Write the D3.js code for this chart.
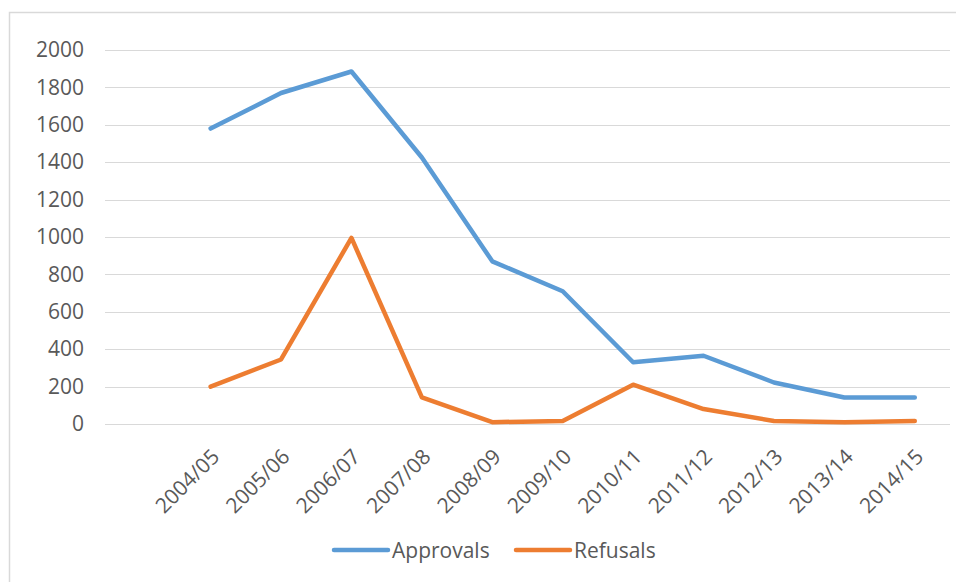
<!DOCTYPE html>
<html>
<head>
<meta charset="utf-8">
<script src="https://cdn.jsdelivr.net/npm/d3@7"></script>
<style>
  html, body { margin: 0; padding: 0; background: #fff; }
  svg { display: block; }
  text { font-family: "Open Sans", "Liberation Sans", sans-serif; fill: #595959; }
</style>
</head>
<body>
<svg id="chart" width="956" height="582"></svg>
<script>
// ---- data ----
const categories = ["", "2004/05", "2005/06", "2006/07", "2007/08", "2008/09", "2009/10",
                    "2010/11", "2011/12", "2012/13", "2013/14", "2014/15"];
const approvals = [null, 1580, 1770, 1885, 1425, 870, 710, 330, 365, 222, 142, 142];
const refusals  = [null, 200, 345, 995, 142, 10, 16, 210, 80, 16, 10, 16];
const yTicks = [0, 200, 400, 600, 800, 1000, 1200, 1400, 1600, 1800, 2000];
const seriesNames = ["Approvals", "Refusals"];
const seriesColors = ["#5B9BD5", "#ED7D31"];

// ---- layout ----
const svg = d3.select("#chart");
const plot = { left: 105, right: 950, top: 50, bottom: 424 };

svg.append("rect")
  .attr("x", 9.5).attr("y", 12.5)
  .attr("width", 970).attr("height", 600)
  .attr("fill", "#fff").attr("stroke", "#d9d9d9").attr("stroke-width", 1.5);

const x = d3.scaleBand().domain(categories).range([plot.left, plot.right]).padding(0);
const y = d3.scaleLinear().domain([0, 2000]).range([plot.bottom, plot.top]);

// gridlines
svg.append("g").selectAll("line").data(yTicks).join("line")
  .attr("x1", plot.left).attr("x2", plot.right)
  .attr("y1", d => Math.round(y(d)) + 0.5).attr("y2", d => Math.round(y(d)) + 0.5)
  .attr("stroke", "#d9d9d9").attr("stroke-width", 1);

// y axis labels
const yAxis = d3.axisLeft(y).tickValues(yTicks).tickSize(0).tickPadding(0).tickFormat(d3.format("d"));
const yg = svg.append("g").attr("transform", `translate(84,0)`).call(yAxis);
yg.select(".domain").remove();
yg.selectAll("text").style("font-size", "21px").attr("fill", "#595959")
  .attr("font-family", '"Open Sans", sans-serif');

// x axis labels
const xg = svg.append("g");
xg.selectAll("text").data(categories.filter(c => c !== "")).join("text")
  .attr("transform", d => `translate(${x(d) + x.bandwidth() / 2 + 10},458) rotate(-45)`)
  .attr("text-anchor", "end")
  .style("font-size", "21px")
  .text(d => d);

// lines
const seriesData = [approvals, refusals];
const line = d3.line()
  .defined(d => d.v != null)
  .x(d => x(d.c) + x.bandwidth() / 2)
  .y(d => y(d.v));

seriesData.forEach((vals, i) => {
  const pts = categories.map((c, j) => ({ c, v: vals[j] }));
  svg.append("path")
    .datum(pts)
    .attr("d", line)
    .attr("fill", "none")
    .attr("stroke", seriesColors[i])
    .attr("stroke-width", 4.5)
    .attr("stroke-linejoin", "round")
    .attr("stroke-linecap", "round");
});

// legend
const legendItems = [
  { name: seriesNames[0], color: seriesColors[0], x: 334 },
  { name: seriesNames[1], color: seriesColors[1], x: 516 }
];
const lg = svg.append("g");
legendItems.forEach(it => {
  lg.append("line")
    .attr("x1", it.x).attr("x2", it.x + 54)
    .attr("y1", 550).attr("y2", 550)
    .attr("stroke", it.color).attr("stroke-width", 4.5).attr("stroke-linecap", "round");
  lg.append("text")
    .attr("x", it.x + 58).attr("y", 557.5)
    .style("font-size", "21px")
    .text(it.name);
});
</script>
</body>
</html>
